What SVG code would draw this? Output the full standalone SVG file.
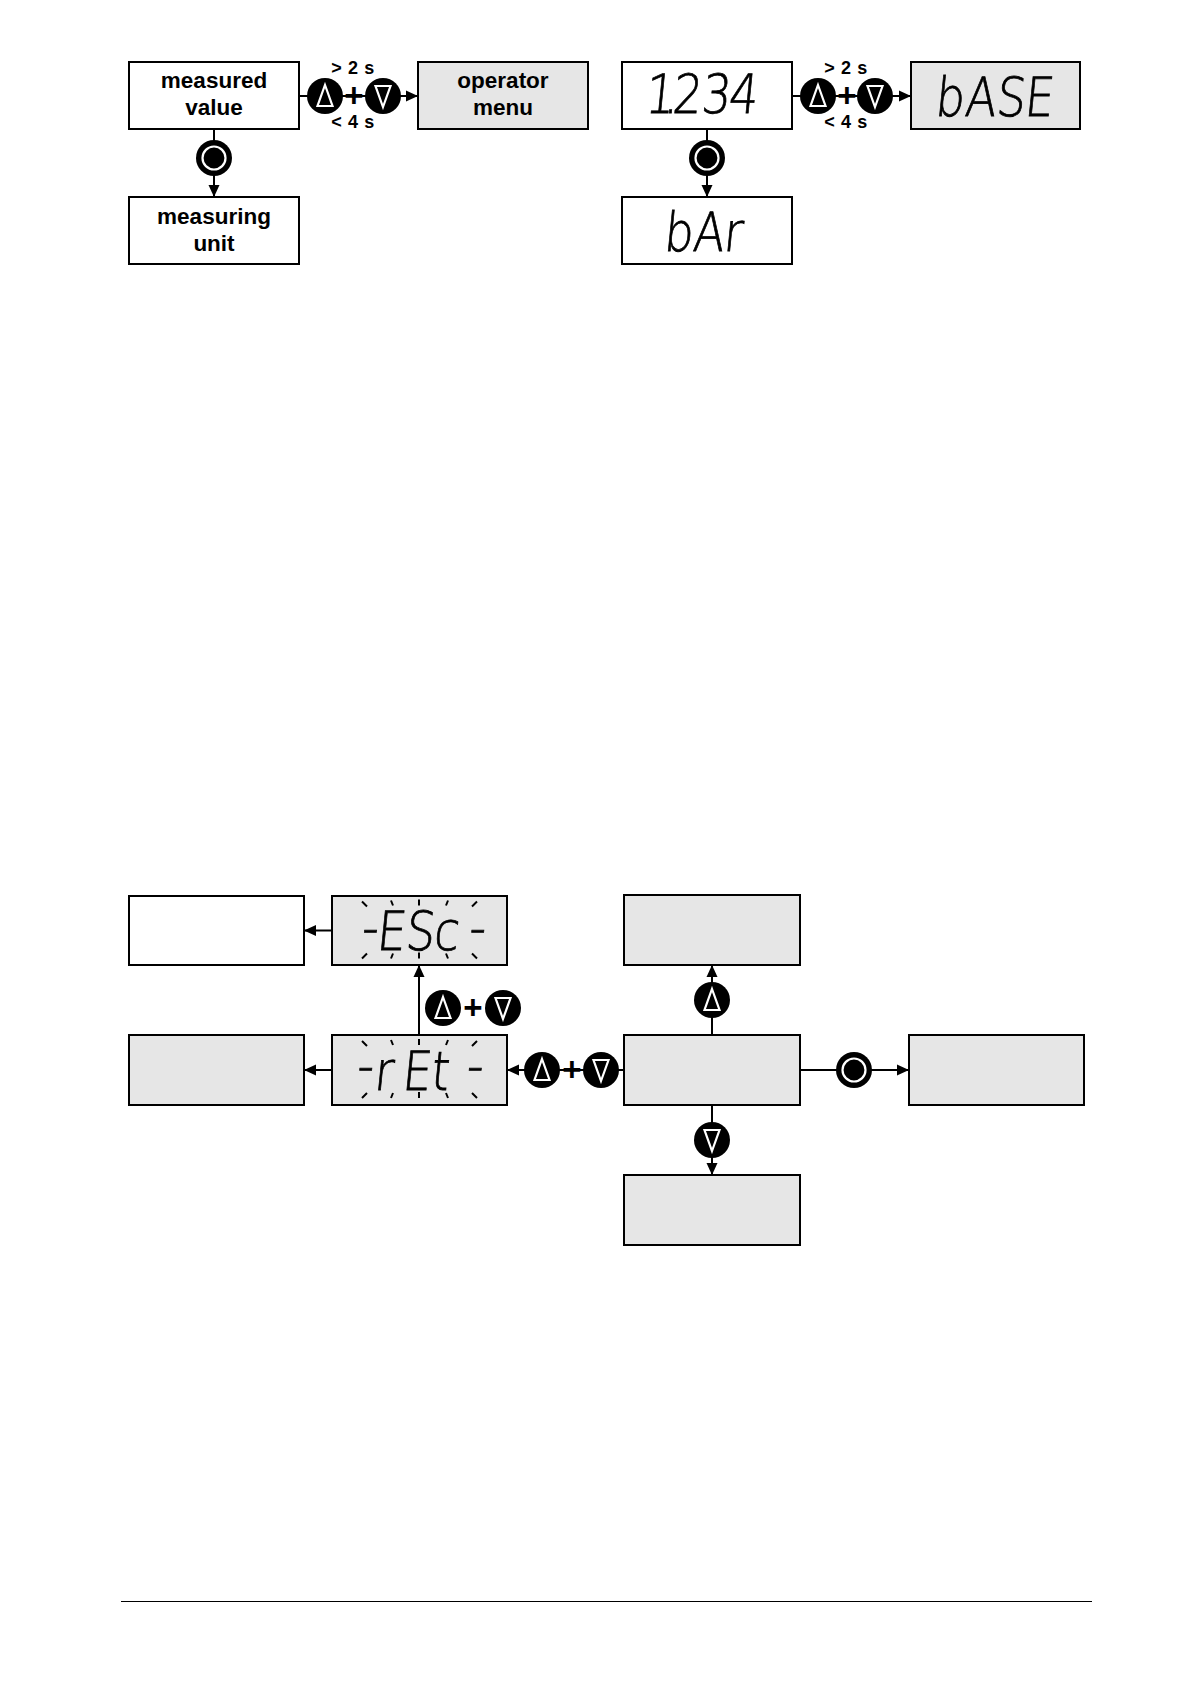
<svg xmlns="http://www.w3.org/2000/svg" width="1190" height="1684" viewBox="0 0 1190 1684">
<style>
.box{fill:#fff;stroke:#000;stroke-width:2}
.grey{fill:#e6e6e6}
.lbl{font-family:"Liberation Sans",Arial,sans-serif;font-weight:700;font-size:22.5px;text-anchor:middle;fill:#000}
.time{font-family:"Liberation Sans",Arial,sans-serif;font-weight:700;font-size:18px;text-anchor:middle;fill:#000;letter-spacing:.6px}
.plus{font-family:"Liberation Sans",Arial,sans-serif;font-weight:700;font-size:33px;text-anchor:middle;fill:#000}
.seg{font-family:"DejaVu Sans Light","DejaVu Sans",sans-serif;font-weight:200;font-size:54px;fill:#000;stroke:#000;stroke-width:.8px}
.conn{fill:none;stroke:#000;stroke-width:2}
.tick{fill:none;stroke:#000;stroke-width:2}
.ico{fill:none;stroke:#fff;stroke-width:2.2}
</style>
<defs>
<marker id="ah" markerUnits="userSpaceOnUse" markerWidth="13" markerHeight="13" refX="12" refY="6.5" orient="auto"><path d="M0 1 L12 6.5 L0 12 Z" fill="#000"/></marker>
<g id="up"><circle r="18" fill="#000"/><path class="ico" d="M0 -11 L7.5 10 L-7.5 10 Z"/></g>
<g id="down"><circle r="18" fill="#000"/><path class="ico" d="M0 11 L7.5 -10 L-7.5 -10 Z"/></g>
<g id="enter"><circle r="18" fill="#000"/><circle class="ico" r="11.5"/></g>
<g id="ticks" class="tick"><path d="M-57 -29 L-52 -24 M-28 -30 L-26 -25 M0 -31 L0 -25 M29 -30 L27 -25 M58 -29 L53 -24 M-57 28 L-52 23 M-28 28 L-26 23 M0 28 L0 22 M29 28 L27 23 M58 28 L53 23"/></g>
</defs>

<g id="connectors">
<path class="conn" marker-end="url(#ah)" d="M299 96 H418"/>
<path class="conn" marker-end="url(#ah)" d="M214 129 V197"/>
<path class="conn" marker-end="url(#ah)" d="M792 96 H911"/>
<path class="conn" marker-end="url(#ah)" d="M707 129 V197"/>
<path class="conn" marker-end="url(#ah)" d="M332 930.5 H304"/>
<path class="conn" marker-end="url(#ah)" d="M332 1070 H304"/>
<path class="conn" marker-end="url(#ah)" d="M419 1035 V965"/>
<path class="conn" marker-end="url(#ah)" d="M624 1070 H507"/>
<path class="conn" marker-end="url(#ah)" d="M712 1035 V965"/>
<path class="conn" marker-end="url(#ah)" d="M712 1105 V1175"/>
<path class="conn" marker-end="url(#ah)" d="M800 1070 H909"/>
</g>

<g id="node-measured-value"><rect class="box" x="129" y="62" width="170" height="67"/><text class="lbl" x="214" y="88">measured</text><text class="lbl" x="214" y="115">value</text></g>
<g id="node-operator-menu"><rect class="box grey" x="418" y="62" width="170" height="67"/><text class="lbl" x="503" y="88">operator</text><text class="lbl" x="503" y="115">menu</text></g>
<g id="node-measuring-unit"><rect class="box" x="129" y="197" width="170" height="67"/><text class="lbl" x="214" y="224">measuring</text><text class="lbl" x="214" y="251">unit</text></g>

<g id="node-1234"><rect class="box" x="622" y="62" width="170" height="67"/><text class="seg" transform="translate(0 113) matrix(.85 0 -.1 1 0 0)" x="758 780 790 824 856" y="0">1.234</text></g>
<g id="node-base"><rect class="box grey" x="911" y="62" width="169" height="67"/><text class="seg" transform="translate(0 116) matrix(.85 0 -.1 1 0 0)" x="1099 1134 1171 1204" y="0">bASE</text></g>
<g id="node-bar"><rect class="box" x="622" y="197" width="170" height="67"/><text class="seg" transform="translate(0 251) matrix(.85 0 -.1 1 0 0)" x="780 814 850" y="0">bAr</text></g>

<g id="keys-top-left"><use href="#up" x="325" y="96"/><text class="plus" x="354" y="107">+</text><use href="#down" x="383" y="96"/><text class="time" x="353" y="74">&gt; 2 s</text><text class="time" x="353" y="128">&lt; 4 s</text><use href="#enter" x="214" y="158"/></g>
<g id="keys-top-right"><use href="#up" x="818" y="96"/><text class="plus" x="847" y="107">+</text><use href="#down" x="875" y="96"/><text class="time" x="846" y="74">&gt; 2 s</text><text class="time" x="846" y="128">&lt; 4 s</text><use href="#enter" x="707" y="158"/></g>

<g id="node-blank-white"><rect class="box" x="129" y="896" width="175" height="69"/></g>
<g id="node-esc"><rect class="box grey" x="332" y="896" width="175" height="69"/><use href="#ticks" x="419" y="930.5"/><text class="seg" transform="translate(0 950) matrix(.85 0 -.1 1 0 0)" x="424 442 476 509 550" y="-4 0 0 0 -4">-ESc-</text></g>
<g id="node-blank-grey-left"><rect class="box grey" x="129" y="1035" width="175" height="70"/></g>
<g id="node-ret"><rect class="box grey" x="332" y="1035" width="175" height="70"/><use href="#ticks" x="419" y="1070"/><text class="seg" transform="translate(0 1090) matrix(.85 0 -.1 1 0 0)" x="418 439 472 506 547" y="-6 0 0 0 -6">-rEt-</text></g>
<g id="node-blank-grey-top"><rect class="box grey" x="624" y="895" width="176" height="70"/></g>
<g id="node-blank-grey-center"><rect class="box grey" x="624" y="1035" width="176" height="70"/></g>
<g id="node-blank-grey-bottom"><rect class="box grey" x="624" y="1175" width="176" height="70"/></g>
<g id="node-blank-grey-right"><rect class="box grey" x="909" y="1035" width="175" height="70"/></g>

<g id="keys-bottom">
<use href="#up" x="443" y="1008"/><text class="plus" x="473" y="1019">+</text><use href="#down" x="503" y="1008"/>
<use href="#up" x="542" y="1070"/><text class="plus" x="572" y="1081">+</text><use href="#down" x="601" y="1070"/>
<use href="#up" x="712" y="1000"/><use href="#down" x="712" y="1140"/><use href="#enter" x="854" y="1070"/>
</g>
<path id="footer-rule" d="M121 1601.5 H1092" stroke="#000" stroke-width="1" fill="none"/>
</svg>
